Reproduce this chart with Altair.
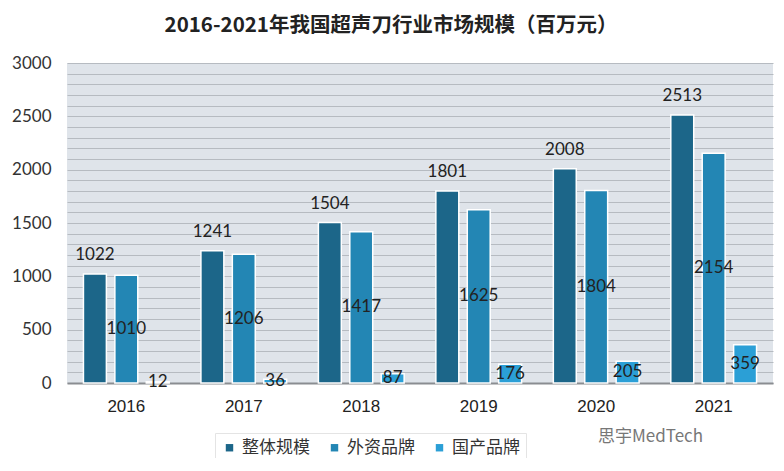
import altair as alt
import pandas as pd

years = ["2016", "2017", "2018", "2019", "2020", "2021"]
series = ["整体规模", "外资品牌", "国产品牌"]
total = [1022, 1241, 1504, 1801, 2008, 2513]
foreign = [1010, 1206, 1417, 1625, 1804, 2154]
domestic = [12, 36, 87, 176, 205, 359]
colors = ["#1c6689", "#2386b4", "#2b9fd6"]
grid_values = list(range(0, 3001, 100))

rows = []
for i, y in enumerate(years):
    for s, vals in zip(series, [total, foreign, domestic]):
        rows.append({"year": y, "series": s, "value": vals[i]})
df = pd.DataFrame(rows)

FONT = "Lato, Noto Sans CJK SC"

x = alt.X("year:N", title=None, sort=years,
          scale=alt.Scale(paddingInner=0.27, paddingOuter=0.14),
          axis=alt.Axis(labelAngle=0, labelFontSize=17, labelColor="#222",
                        labelPadding=15, ticks=False, domain=True,
                        domainColor="#8a8d91", domainWidth=2, labelFont="Liberation Sans"))
xo = alt.XOffset("series:N", sort=series, scale=alt.Scale(paddingInner=0.27))
yscale = alt.Scale(domain=[0, 3000], nice=False)
yaxis = alt.Axis(values=grid_values,
                 labelExpr="datum.value % 500 == 0 ? datum.label : ''",
                 format="d", labelFontSize=17, labelColor="#333", labelPadding=16,
                 labelOverlap=False, labelBound=False, labelFlush=False,
                 ticks=False, domain=False, gridColor="#b6bbc1", gridWidth=1,
                 labelFont=FONT)

base = alt.Chart(df)

bars = base.mark_bar(stroke="white", strokeWidth=1.5).encode(
    x=x, xOffset=xo, y=alt.Y("value:Q", title=None, scale=yscale, axis=yaxis),
    color=alt.Color("series:N", sort=series,
                    scale=alt.Scale(domain=series, range=colors),
                    legend=alt.Legend(title=None, orient="none", legendX=148, legendY=370,
                                      direction="horizontal", symbolType="square",
                                      symbolSize=55, labelFontSize=17, labelColor="#333",
                                      labelFont="Noto Sans CJK SC", columnPadding=16,
                                      labelOffset=4, fillColor="white", padding=6,
                                      strokeColor="#e4e4e4",
                                      symbolStrokeWidth=0))
)

top_lbl = base.transform_filter(alt.datum.series == "整体规模").mark_text(
    fontSize=17, color="#222", dy=-19, font=FONT
).encode(x=x, xOffset=xo, y=alt.Y("value:Q", title=None, scale=yscale, axis=yaxis),
         text=alt.Text("value:Q"))

mid_lbl = base.transform_filter(alt.datum.series != "整体规模").transform_calculate(
    mid="datum.value / 2"
).mark_text(fontSize=17, color="#222", font=FONT).encode(
    x=x, xOffset=xo, y=alt.Y("mid:Q", title=None, scale=yscale, axis=yaxis),
    text=alt.Text("value:Q"))

wm = alt.Chart(pd.DataFrame({"t": ["思宇MedTech"]})).mark_text(
    fontSize=17, color="#777", align="left", font="Noto Sans CJK SC"
).encode(x=alt.value(531), y=alt.value(374), text="t:N")

chart = alt.layer(bars, top_lbl, mid_lbl, wm).properties(
    width=706, height=320,
    background="white",
    autosize=alt.AutoSizeParams(type="none"),
    padding={"left": 59, "top": 55, "right": 3, "bottom": 75},
    title=alt.TitleParams("2016-2021年我国超声刀行业市场规模（百万元）",
                          fontSize=20.5, font="Noto Sans CJK SC", fontWeight="bold",
                          color="#222", anchor="middle", dx=-29, offset=18),
).configure_view(fill="#dfe4ea", strokeWidth=0)

chart.save("out.html", embed_options={"renderer": "svg", "actions": False})
